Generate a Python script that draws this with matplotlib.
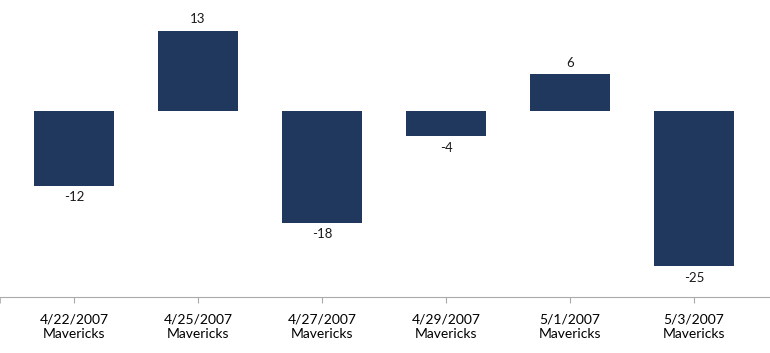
import matplotlib
matplotlib.use('Agg')
import matplotlib.pyplot as plt

# Data
dates = ['4/22/2007', '4/25/2007', '4/27/2007', '4/29/2007', '5/1/2007', '5/3/2007']
teams = ['Mavericks'] * 6
values = [-12, 13, -18, -4, 6, -25]

plt.rcParams['font.family'] = ['Lato', 'DejaVu Sans']

fig = plt.figure(figsize=(7.7, 3.53), dpi=100)
ax = fig.add_axes([0, 56 / 353, 1, 297 / 353])

x = list(range(len(values)))
labels = [f'{d}\n{t}' for d, t in zip(dates, teams)]
bars = ax.bar(x, values, width=0.645, color='#21385e')

# value labels above / below bars
for xi, v in zip(x, values):
    off = 4 if v >= 0 else -4
    ax.annotate(str(v), (xi, v), xytext=(0, off), textcoords='offset points',
                ha='center', va='bottom' if v >= 0 else 'top',
                fontsize=9.5, color='#1a1a1a')

ax.set_xlim(-0.597, 5.613)
ax.set_ylim(-30, 18)

ax.set_xticks(x)
ax.set_xticklabels(labels, fontsize=9, color='#1a1a1a', linespacing=1.55)
ax.set_xticks([-0.597], minor=True)
ax.tick_params(axis='x', which='both', length=4, color='#aaaaaa', pad=8)
ax.set_yticks([])

for s in ['top', 'right', 'left']:
    ax.spines[s].set_visible(False)
ax.spines['bottom'].set_color('#aaaaaa')
ax.spines['bottom'].set_position(('data', -30))

fig.savefig('out.png', dpi=100)
